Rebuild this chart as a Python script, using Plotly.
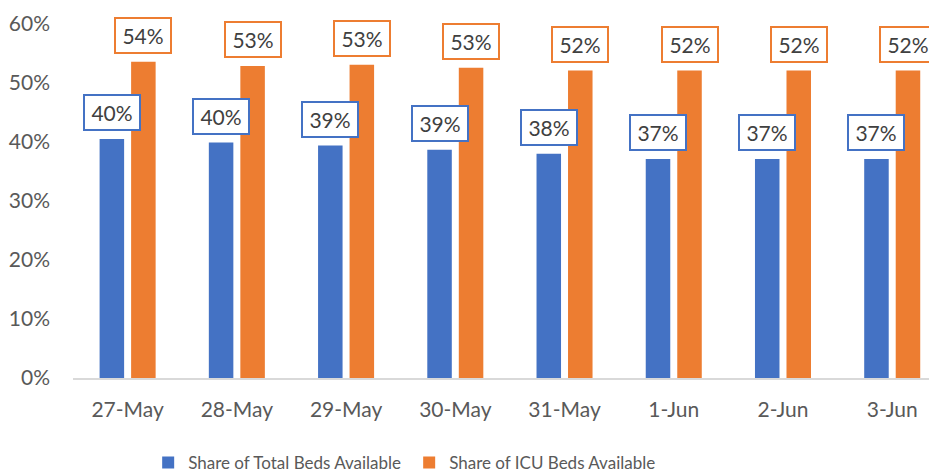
import plotly.graph_objects as go

categories = ["27-May", "28-May", "29-May", "30-May", "31-May", "1-Jun", "2-Jun", "3-Jun"]
total_beds = [0.405, 0.399, 0.394, 0.387, 0.380, 0.371, 0.371, 0.371]
icu_beds = [0.536, 0.529, 0.531, 0.526, 0.521, 0.521, 0.521, 0.521]
y_ticks = [0, 0.1, 0.2, 0.3, 0.4, 0.5, 0.6]
y_tick_labels = ["0%", "10%", "20%", "30%", "40%", "50%", "60%"]

BLUE = "#4472C4"
ORANGE = "#ED7D31"
FONT = "Lato, Carlito, Calibri, sans-serif"

fig = go.Figure()
fig.add_trace(go.Bar(x=categories, y=total_beds, name="Share of Total Beds Available",
                     marker=dict(color=BLUE, line=dict(width=0))))
fig.add_trace(go.Bar(x=categories, y=icu_beds, name="Share of ICU Beds Available",
                     marker=dict(color=ORANGE, line=dict(width=0))))

annotations = []
for series, color, shift in [(total_beds, BLUE, -15.75), (icu_beds, ORANGE, 15.75)]:
    for i, v in enumerate(series):
        annotations.append(dict(
            x=i, y=v, xref="x", yref="y", text=f"{round(v * 100):.0f}%",
            showarrow=False, xshift=shift, yshift=8, yanchor="bottom",
            font=dict(family=FONT, size=21, color="#404040"),
            bgcolor="white", bordercolor=color, borderwidth=2, borderpad=1,
            width=52, height=31,
        ))

fig.update_layout(
    width=929, height=465,
    margin=dict(l=65, r=0, t=16, b=95, autoexpand=False),
    paper_bgcolor="white", plot_bgcolor="white",
    barmode="group", bargap=0.423, bargroupgap=0.222,
    font=dict(family=FONT, size=18, color="#595959"),
    showlegend=True,
    legend=dict(orientation="h", x=0.087, xanchor="left", y=-0.24, yanchor="middle",
                font=dict(family=FONT, size=17, color="#595959"),
                itemwidth=30, traceorder="normal", entrywidth=216, entrywidthmode="pixels"),
    annotations=annotations,
    xaxis=dict(type="category", range=[-0.5, 7.41], showgrid=False, showline=True,
               linecolor="#d9d9d9", linewidth=1.5, ticks="", ticklabelstandoff=12,
               automargin=False,
               tickfont=dict(family=FONT, size=21, color="#595959")),
    yaxis=dict(range=[0, 0.6], tickvals=y_ticks, ticktext=y_tick_labels, showgrid=False,
               zeroline=False, showline=False, ticks="", ticklabelstandoff=22,
               automargin=False,
               tickfont=dict(family=FONT, size=21, color="#595959")),
)

fig.write_html("out.html")
